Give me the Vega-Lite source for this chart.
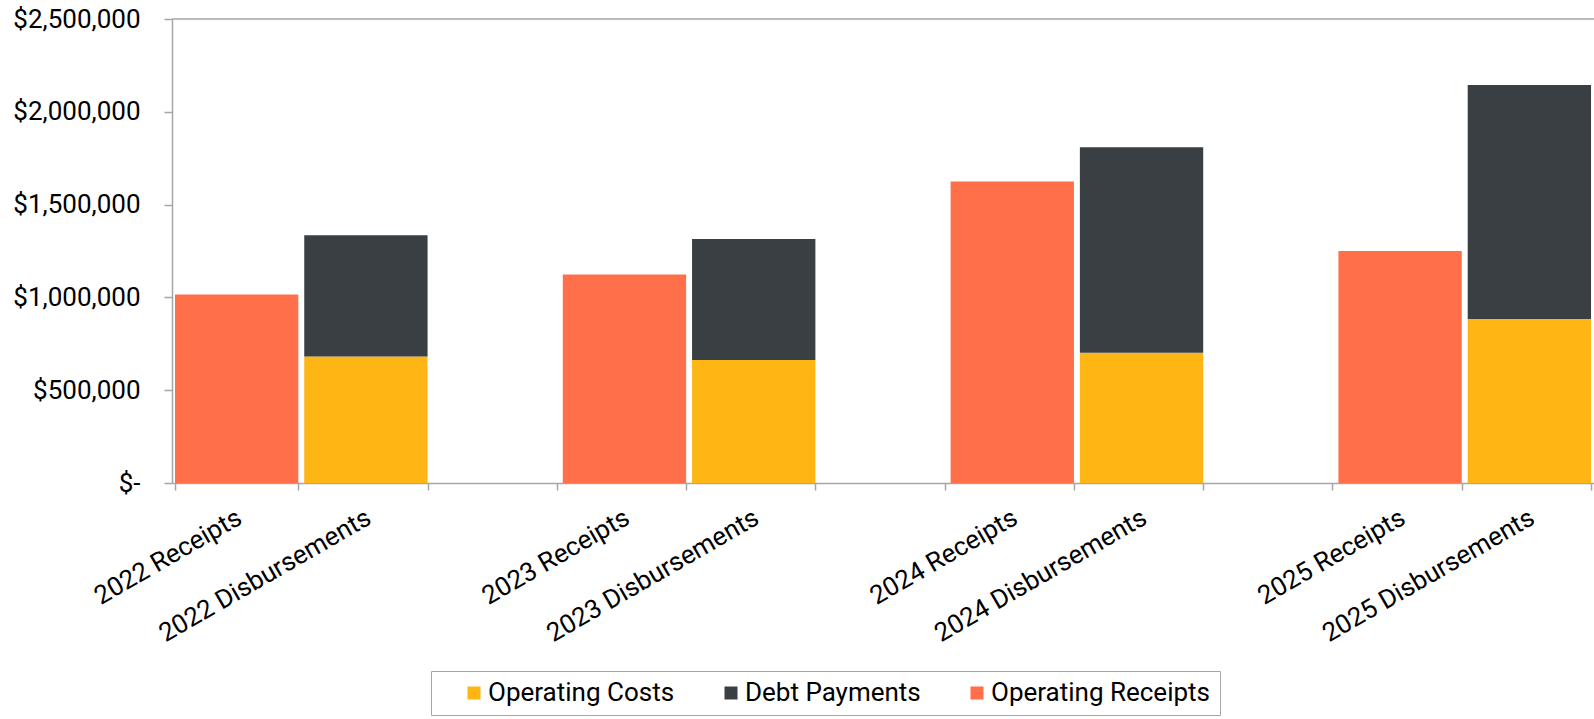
{
  "$schema": "https://vega.github.io/schema/vega-lite/v6.json",
  "width": 1422,
  "height": 464,
  "autosize": {"type": "none"},
  "padding": {"left": 172, "top": 19, "right": 0, "bottom": 236},
  "background": "white",
  "config": {"font": "Roboto", "view": {"stroke": null}},
  "data": {"values": [
    {"category": "2022 Receipts", "series": "Operating Receipts", "amount": 1015000},
    {"category": "2022 Disbursements", "series": "Operating Costs", "amount": 681000},
    {"category": "2022 Disbursements", "series": "Debt Payments", "amount": 654000},
    {"category": "2023 Receipts", "series": "Operating Receipts", "amount": 1123000},
    {"category": "2023 Disbursements", "series": "Operating Costs", "amount": 663000},
    {"category": "2023 Disbursements", "series": "Debt Payments", "amount": 652000},
    {"category": "2024 Receipts", "series": "Operating Receipts", "amount": 1625000},
    {"category": "2024 Disbursements", "series": "Operating Costs", "amount": 702000},
    {"category": "2024 Disbursements", "series": "Debt Payments", "amount": 1107000},
    {"category": "2025 Receipts", "series": "Operating Receipts", "amount": 1250000},
    {"category": "2025 Disbursements", "series": "Operating Costs", "amount": 884000},
    {"category": "2025 Disbursements", "series": "Debt Payments", "amount": 1260000}
  ]},
  "layer": [
    {
      "mark": {"type": "bar"},
      "encoding": {
        "x": {
          "field": "category",
          "type": "nominal",
          "title": null,
          "scale": {
            "domain": ["2022 Receipts", "2022 Disbursements", "gap1", "2023 Receipts", "2023 Disbursements", "gap2", "2024 Receipts", "2024 Disbursements", "gap3", "2025 Receipts", "2025 Disbursements"],
            "paddingInner": 0.046,
            "paddingOuter": 0.023
          },
          "axis": {
            "domainColor": "#A6A6A6",
            "domainWidth": 1.5,
            "tickColor": "#A6A6A6",
            "tickWidth": 1.5,
            "tickSize": 7,
            "tickBand": "extent",
            "labelAngle": -30,
            "labelFontSize": 26,
            "labelColor": "#000000",
            "labelPadding": 14,
            "labelOffset": -4,
            "labelLimit": 400,
            "labelExpr": "indexof(datum.label, 'gap') == 0 ? '' : datum.label",
            "grid": false
          }
        },
        "y": {
          "field": "amount",
          "type": "quantitative",
          "stack": "zero",
          "title": null,
          "scale": {"domain": [0, 2500000], "nice": false},
          "axis": {
            "values": [0, 500000, 1000000, 1500000, 2000000, 2500000],
            "labelExpr": "datum.value == 0 ? '$-' : '$' + format(datum.value, ',')",
            "domainColor": "#A6A6A6",
            "domainWidth": 1.5,
            "tickColor": "#A6A6A6",
            "tickWidth": 1.5,
            "tickSize": 8,
            "labelPadding": 24,
            "labelFontSize": 26,
            "labelColor": "#000000",
            "grid": false
          }
        },
        "color": {
          "field": "series",
          "type": "nominal",
          "scale": {
            "domain": ["Operating Costs", "Debt Payments", "Operating Receipts"],
            "range": ["#FDB614", "#3A3F44", "#FF6F49"]
          },
          "legend": {
            "orient": "none",
            "legendX": 259,
            "legendY": 652,
            "direction": "horizontal",
            "title": null,
            "strokeColor": "#A6A6A6",
            "padding": 9,
            "symbolType": "square",
            "symbolSize": 169,
            "symbolStrokeWidth": 0,
            "symbolOffset": 21,
            "labelOffset": 1,
            "labelFontSize": 26,
            "labelLimit": 400,
            "labelColor": "#000000",
            "columnPadding": 22
          }
        },
        "order": {"field": "series", "sort": "descending"}
      }
    },
    {
      "data": {"values": [{"top": 2500000}]},
      "mark": {"type": "rule", "color": "#A6A6A6", "strokeWidth": 1.5},
      "encoding": {"y": {"field": "top", "type": "quantitative"}}
    }
  ]
}
